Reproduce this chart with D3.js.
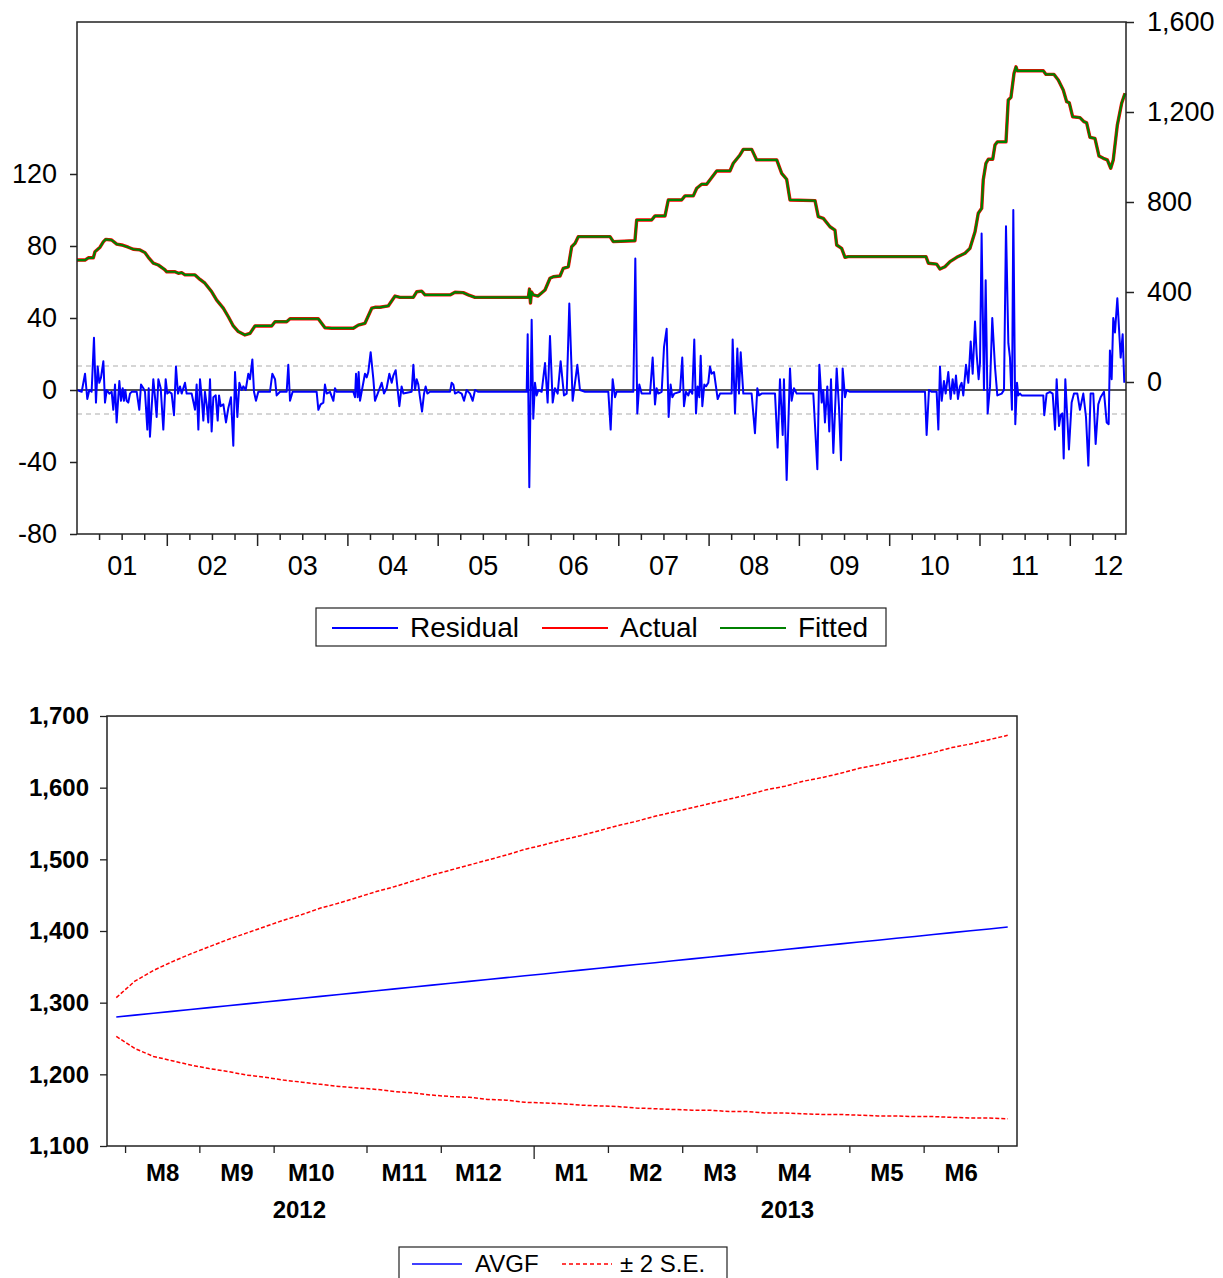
<!DOCTYPE html>
<html><head><meta charset="utf-8">
<script src="https://cdn.jsdelivr.net/npm/d3@7"></script>
<style>body{margin:0;background:#fff} text{font-family:Arial,"Liberation Sans",sans-serif;fill:#000}</style>
</head><body><svg id="c" width="1223" height="1278"></svg>
<script>
// ---------------- DATA: top panel (decimal years) ----------------
const levelTimes = [2001.000,2001.089,2001.125,2001.181,2001.199,2001.255,2001.291,2001.318,2001.384,2001.440,2001.495,2001.568,2001.623,2001.698,2001.753,2001.790,2001.845,2001.900,2001.967,2001.993,
2002.085,2002.122,2002.159,2002.196,2002.307,2002.362,2002.417,2002.492,2002.547,2002.620,2002.676,2002.731,2002.786,2002.860,2002.916,2002.971,
2003.156,2003.193,2003.322,2003.359,2003.672,2003.746,2003.821,2004.060,2004.115,2004.189,2004.264,2004.300,2004.355,2004.447,2004.522,2004.577,2004.724,2004.762,2004.817,2004.854,
2005.131,2005.186,2005.278,2005.333,2005.408,2005.998,2006.011,2006.022,2006.033,2006.053,2006.105,2006.183,2006.238,2006.275,2006.349,2006.385,2006.441,2006.478,2006.515,2006.551,2006.903,2006.939,
2007.179,2007.198,2007.364,2007.401,2007.512,2007.548,2007.696,2007.733,2007.825,2007.863,2007.918,2007.973,2008.084,2008.231,2008.268,2008.342,2008.379,2008.472,2008.527,2008.749,2008.804,2008.859,2008.896,
2009.173,2009.209,2009.265,2009.339,2009.394,2009.413,2009.468,2009.505,2009.542,2010.402,2010.428,2010.520,2010.557,2010.612,2010.668,2010.742,2010.834,2010.889,2010.945,2010.981,
2011.019,2011.036,2011.066,2011.092,2011.141,2011.166,2011.191,2011.288,2011.313,2011.343,2011.377,2011.399,2011.413,2011.701,2011.731,2011.820,2011.867,2011.922,2011.960,2011.989,
2012.026,2012.107,2012.152,2012.181,2012.218,2012.273,2012.318,2012.366,2012.410,2012.448,2012.476,2012.521,2012.569,2012.606];
const actualValues = [542,542,552,552,579,599,623,634,631,613,609,599,590,587,575,554,528,520,501,490,
490,483,486,476,476,456,439,401,364,328,290,249,224,209,216,249,
249,268,268,281,281,241,239,239,253,261,328,332,332,338,382,376,376,401,404,387,
387,399,397,387,376,376,413,351,400,387,382,409,461,468,471,505,512,601,616,646,646,624,
628,720,720,738,738,809,809,827,827,861,879,879,938,938,972,1009,1034,1034,987,987,927,901,809,
806,735,727,690,675,609,594,554,557,557,528,524,502,512,535,554,572,594,668,750,
772,898,972,990,990,1053,1067,1067,1253,1265,1372,1401,1383,1383,1367,1367,1342,1298,1246,1241,
1179,1175,1157,1152,1087,1083,1004,994,987,950,987,1142,1239,1283];
const fittedValues = [542,542,552,552,579,599,623,634,631,613,609,599,590,587,575,554,528,520,501,490,
490,483,486,476,476,456,439,401,364,328,290,249,224,209,216,249,
249,268,268,281,281,241,239,239,253,261,328,332,332,338,382,376,376,401,404,387,
387,399,397,387,376,376,413,351,400,387,382,409,461,468,471,505,512,601,616,646,646,624,
628,720,720,738,738,809,809,827,827,861,879,879,938,938,972,1009,1034,1034,987,987,927,901,809,
806,735,727,690,675,609,594,554,557,557,528,524,502,512,535,554,572,594,668,750,
772,898,972,990,990,1053,1067,1067,1253,1265,1372,1401,1383,1383,1367,1367,1342,1298,1246,1241,
1179,1175,1157,1152,1087,1083,1004,994,987,950,987,1142,1239,1283];
const residual = [
[2001.000,0],[2001.052,-1],[2001.089,9],[2001.114,-5],[2001.137,0],[2001.162,-1],[2001.188,29],[2001.210,-7],[2001.229,13],[2001.247,4],[2001.266,7],[2001.292,16],[2001.310,-7],[2001.329,0],[2001.358,-2],[2001.384,-1],[2001.402,-11],[2001.421,3],[2001.439,-18],[2001.469,5],[2001.487,-6],[2001.506,1],[2001.520,-6],[2001.535,0],[2001.550,-6],[2001.568,-7],[2001.587,-2],[2001.605,-1],[2001.661,-1],[2001.690,-11],[2001.709,3],[2001.735,1],[2001.753,-1],[2001.779,-22],[2001.794,1],[2001.808,-26],[2001.845,6],[2001.864,-4],[2001.882,-15],[2001.901,6],[2001.927,1],[2001.956,-22],[2001.982,6],
[2002.000,-2],[2002.022,-1],[2002.048,-2],[2002.074,-14],[2002.096,13],[2002.118,-2],[2002.141,2],[2002.159,-2],[2002.196,4],[2002.214,-2],[2002.270,-2],[2002.307,-11],[2002.325,3],[2002.344,-22],[2002.362,6],[2002.381,-4],[2002.399,-17],[2002.417,-1],[2002.436,-8],[2002.454,-18],[2002.473,6],[2002.491,-23],[2002.510,-4],[2002.536,-3],[2002.558,-17],[2002.573,-3],[2002.591,-9],[2002.621,-8],[2002.650,-18],[2002.676,-10],[2002.705,-4],[2002.731,-31],[2002.750,10],[2002.776,-15],[2002.798,4],[2002.824,0],[2002.842,2],[2002.868,0],[2002.897,9],[2002.916,6],[2002.942,17],[2002.960,-1],[2002.982,-6],
[2003.008,-1],[2003.137,-1],[2003.163,9],[2003.193,6],[2003.211,-3],[2003.248,-1],[2003.322,-1],[2003.340,14],[2003.359,-6],[2003.388,-1],[2003.654,-1],[2003.673,-11],[2003.698,-8],[2003.728,-7],[2003.746,3],[2003.765,-2],[2003.802,-1],[2003.839,-6],[2003.857,1],[2003.876,-1],
[2004.060,-1],[2004.079,-4],[2004.090,9],[2004.108,-4],[2004.119,10],[2004.134,-6],[2004.189,9],[2004.208,7],[2004.226,10],[2004.252,21],[2004.282,6],[2004.300,-6],[2004.337,-1],[2004.374,4],[2004.400,-2],[2004.429,1],[2004.459,9],[2004.485,4],[2004.503,8],[2004.529,11],[2004.547,2],[2004.570,-9],[2004.595,2],[2004.614,-2],[2004.706,-1],[2004.725,14],[2004.743,0],[2004.762,6],[2004.780,3],[2004.798,-4],[2004.821,-12],[2004.843,-2],[2004.861,2],[2004.880,-2],[2004.909,-1],
[2005.131,-1],[2005.149,4],[2005.168,3],[2005.186,-2],[2005.223,-1],[2005.260,-2],[2005.286,-6],[2005.315,0],[2005.352,-2],[2005.382,-6],[2005.408,0],[2005.444,-1],[2005.980,-1],[2005.991,31],
[2006.009,-54],[2006.035,39],[2006.053,-16],[2006.072,4],[2006.090,-3],[2006.109,0],[2006.146,-1],[2006.183,15],[2006.212,-7],[2006.238,30],[2006.268,-7],[2006.293,1],[2006.323,-2],[2006.356,16],[2006.393,-3],[2006.423,-2],[2006.452,48],[2006.489,-6],[2006.515,4],[2006.541,14],[2006.570,0],[2006.626,-1],[2006.884,-1],[2006.910,-22],[2006.932,6],[2006.958,-4],[2006.976,-1],
[2007.161,-1],[2007.183,73],[2007.205,-13],[2007.227,3],[2007.253,-2],[2007.346,-2],[2007.375,18],[2007.401,-8],[2007.419,1],[2007.438,-2],[2007.475,-1],[2007.501,24],[2007.530,34],[2007.552,-15],[2007.574,3],[2007.593,-4],[2007.615,-2],[2007.678,-1],[2007.703,18],[2007.722,-9],[2007.744,-1],[2007.770,-3],[2007.788,0],[2007.814,-2],[2007.836,28],[2007.855,-13],[2007.873,2],[2007.892,-4],[2007.907,19],[2007.925,-9],[2007.947,3],[2007.966,2],[2007.991,4],
[2008.010,13],[2008.028,9],[2008.054,10],[2008.076,2],[2008.095,-5],[2008.121,-2],[2008.250,-2],[2008.261,28],[2008.287,-13],[2008.313,23],[2008.331,-2],[2008.350,21],[2008.379,-2],[2008.471,-2],[2008.508,-24],[2008.534,1],[2008.553,-3],[2008.582,-2],[2008.730,-2],[2008.759,-32],[2008.785,6],[2008.815,-25],[2008.829,6],[2008.859,-50],[2008.896,12],[2008.914,-6],[2008.940,1],[2008.970,-2],
[2009.154,-2],[2009.199,-44],[2009.221,14],[2009.247,-7],[2009.265,0],[2009.283,-18],[2009.309,2],[2009.331,-23],[2009.350,6],[2009.376,-35],[2009.413,12],[2009.438,-9],[2009.461,-39],[2009.479,12],[2009.505,-4],[2009.523,0],[2009.560,-1],
[2010.391,-1],[2010.409,-25],[2010.435,0],[2010.465,-1],[2010.520,-1],[2010.539,-22],[2010.557,13],[2010.576,-6],[2010.601,5],[2010.620,-2],[2010.649,10],[2010.675,-5],[2010.697,6],[2010.716,-2],[2010.734,8],[2010.756,-5],[2010.778,2],[2010.797,4],[2010.815,-3],[2010.845,14],[2010.871,4],[2010.897,27],[2010.919,9],[2010.945,38],[2010.963,20],[2010.985,6],
[2011.000,15],[2011.018,87],[2011.044,0],[2011.063,61],[2011.085,-13],[2011.111,2],[2011.136,40],[2011.166,13],[2011.192,-3],[2011.240,-2],[2011.266,0],[2011.288,91],[2011.314,26],[2011.332,18],[2011.354,-11],[2011.369,100],[2011.391,-19],[2011.410,4],[2011.424,-3],[2011.443,-2],[2011.461,-3],[2011.701,-3],[2011.712,-14],[2011.738,-2],[2011.775,-1],[2011.805,-2],[2011.831,-22],[2011.849,6],[2011.875,-20],[2011.893,-14],[2011.912,-13],[2011.927,-38],[2011.945,6],[2011.985,-33],
[2012.015,-7],[2012.041,-2],[2012.078,-2],[2012.107,-11],[2012.144,-2],[2012.174,-15],[2012.200,-42],[2012.225,-2],[2012.255,-2],[2012.281,-30],[2012.310,-8],[2012.336,-4],[2012.373,-1],[2012.403,-18],[2012.425,-19],[2012.439,22],[2012.458,6],[2012.476,40],[2012.495,32],[2012.521,51],[2012.543,31],[2012.558,18],[2012.580,31],[2012.598,4]];
const residualSE = 13.3;
const leftTicks = [-80,-40,0,40,80,120];
const rightTicks = [0,400,800,1200,1600];
const yearLabels = ["01","02","03","04","05","06","07","08","09","10","11","12"];
const yearLabelTimes = [2001.5,2002.5,2003.5,2004.5,2005.5,2006.5,2007.5,2008.5,2009.5,2010.5,2011.5,2012.42];
const topLegend = ["Residual","Actual","Fitted"];

// ---------------- DATA: bottom panel (weekly forecast) ----------------
const avgf = [1280.0,1282.6,1285.2,1287.8,1290.5,1293.1,1295.7,1298.3,1300.9,1303.5,1306.2,1308.8,1311.4,1314.0,1316.6,1319.2,1321.8,1324.5,1327.1,1329.7,1332.3,1334.9,1337.5,1340.1,1342.8,1345.4,1348.0,1350.6,1353.2,1355.8,1358.5,1361.1,1363.7,1366.3,1368.9,1371.5,1374.1,1376.8,1379.4,1382.0,1384.6,1387.2,1389.8,1392.4,1395.1,1397.7,1400.3,1402.9,1405.5];
const upperSE = [1307,1330,1345,1357,1368,1378,1388,1397,1406,1415,1423,1432,1439,1447,1455,1462,1470,1478,1485,1492,1499,1506,1514,1520,1527,1533,1540,1547,1553,1560,1566,1572,1578,1584,1590,1597,1602,1609,1614,1620,1627,1632,1638,1643,1649,1656,1661,1667,1673];
const lowerSE = [1253,1236,1225,1219,1213,1208,1204,1199,1196,1192,1189,1186,1183,1181,1179,1176,1174,1171,1169,1168,1165,1164,1161,1160,1159,1157,1156,1155,1153,1152,1151,1150,1150,1148,1148,1146,1146,1145,1144,1144,1143,1142,1142,1141,1141,1140,1139,1139,1138];
const bottomTicks = [1100,1200,1300,1400,1500,1600,1700];
const monthLabels = ["M8","M9","M10","M11","M12","M1","M2","M3","M4","M5","M6"];
const monthFirstWeek = ["2012-08-06","2012-09-03","2012-10-01","2012-11-05","2012-12-03","2013-01-07","2013-02-04","2013-03-04","2013-04-01","2013-05-06","2013-06-03","2013-07-01"];
const yearNames = ["2012","2013"];
const yearNameDates = ["2012-10-07","2013-04-09"];
const bottomLegend = ["AVGF","\u00B1 2 S.E."];

// ---------------- DRAW ----------------
const svg = d3.select("#c");
svg.append("rect").attr("width",1223).attr("height",1278).attr("fill","#fff");

// ===== Top panel =====
const T = {l:77, r:1126, t:22, b:534};
const xT = d3.scaleLinear().domain([2001, 2012.617]).range([T.l, T.r]);
const yL = d3.scaleLinear().domain([-80, 204.44]).range([T.b, T.t]);
const yR = d3.scaleLinear().domain([-675.6, 1600]).range([T.b, T.t]);
const gTop = svg.append("g");

[residualSE, -residualSE].forEach(v => {
  gTop.append("line").attr("x1",T.l).attr("x2",T.r).attr("y1",yL(v)).attr("y2",yL(v))
    .attr("stroke","#c8c8c8").attr("stroke-width",1.5).attr("stroke-dasharray","5,4");
});
gTop.append("line").attr("x1",T.l).attr("x2",T.r).attr("y1",yL(0)).attr("y2",yL(0))
  .attr("stroke","#555").attr("stroke-width",2);

const resLine = d3.line().x(d=>xT(d[0])).y(d=>yL(d[1]));
gTop.append("path").datum(residual).attr("d",resLine).attr("fill","none")
  .attr("stroke","#0000ff").attr("stroke-width",2).attr("stroke-linejoin","round");

const lvl = d3.line().x(d=>xT(d[0])).y(d=>yR(d[1]));
const actual = levelTimes.map((t,i)=>[t, actualValues[i]]);
const fitted = levelTimes.map((t,i)=>[t, fittedValues[i]]);
gTop.append("path").datum(actual).attr("d",lvl).attr("fill","none")
  .attr("stroke","#ff0000").attr("stroke-width",3.4).attr("stroke-linejoin","round");
gTop.append("path").datum(fitted).attr("d",lvl).attr("fill","none")
  .attr("stroke","#008000").attr("stroke-width",2.2).attr("stroke-linejoin","round");

gTop.append("rect").attr("x",T.l).attr("y",T.t).attr("width",T.r-T.l).attr("height",T.b-T.t)
  .attr("fill","none").attr("stroke","#222").attr("stroke-width",1.5);

const axL = gTop.append("g").attr("transform",`translate(${T.l},0)`)
  .call(d3.axisLeft(yL).tickValues(leftTicks).tickSize(7).tickPadding(13).tickFormat(d=>String(d)));
const axR = gTop.append("g").attr("transform",`translate(${T.r},0)`)
  .call(d3.axisRight(yR).tickValues(rightTicks).tickSize(8).tickPadding(13).tickFormat(d3.format(",")));
[axL, axR].forEach(a => {
  a.select(".domain").remove();
  a.selectAll("line").attr("stroke","#222").attr("stroke-width",1.5);
  a.selectAll("text").style("font-size","27px").style("font-family","Arial, 'Liberation Sans', sans-serif").attr("fill","#000");
});

const quarters = d3.range(2001.25, 2012.6, 0.25);
const xt = gTop.append("g");
xt.selectAll("line").data(quarters).join("line")
  .attr("x1",d=>xT(d)).attr("x2",d=>xT(d)).attr("y1",T.b)
  .attr("y2",d=> Math.abs(d-Math.round(d))<1e-6 ? T.b+12 : T.b+6)
  .attr("stroke","#222").attr("stroke-width",1.5);
xt.selectAll("text").data(yearLabels).join("text")
  .attr("x",(d,i)=>xT(yearLabelTimes[i])).attr("y",T.b+41)
  .attr("text-anchor","middle").style("font-size","27px").text(d=>d);

const lg = gTop.append("g");
lg.append("rect").attr("x",316).attr("y",608).attr("width",570).attr("height",38)
  .attr("fill","#fff").attr("stroke","#222").attr("stroke-width",1.2);
const lgColors = ["#0000ff","#ff0000","#008000"];
const lgX = [332,542,720];
topLegend.forEach((name,i)=>{
  lg.append("line").attr("x1",lgX[i]).attr("x2",lgX[i]+66).attr("y1",628).attr("y2",628)
    .attr("stroke",lgColors[i]).attr("stroke-width",2);
  lg.append("text").attr("x",lgX[i]+78).attr("y",637).style("font-size","28px").text(name);
});

// ===== Bottom panel =====
const B = {l:107, r:1017, t:716, b:1146};
const parse = d3.utcParse("%Y-%m-%d");
const startObs = parse("2012-07-30");
const weeks = d3.utcMonday.range(startObs, d3.utcDay.offset(parse("2013-07-01"),1));
const xB = d3.scaleUtc()
  .domain([d3.utcHour.offset(weeks[0],-84), d3.utcHour.offset(weeks[weeks.length-1],84)])
  .range([B.l, B.r]);
const yB = d3.scaleLinear().domain([1100,1700]).range([B.b, B.t]);
const gBot = svg.append("g");

const fl = d3.line().x((d,i)=>xB(weeks[i])).y(d=>yB(d));
gBot.append("path").datum(upperSE).attr("d",fl).attr("fill","none")
  .attr("stroke","#ff0000").attr("stroke-width",1.5).attr("stroke-dasharray","4,2");
gBot.append("path").datum(lowerSE).attr("d",fl).attr("fill","none")
  .attr("stroke","#ff0000").attr("stroke-width",1.5).attr("stroke-dasharray","4,2");
gBot.append("path").datum(avgf).attr("d",fl).attr("fill","none")
  .attr("stroke","#0000ff").attr("stroke-width",1.6);

gBot.append("rect").attr("x",B.l).attr("y",B.t).attr("width",B.r-B.l).attr("height",B.b-B.t)
  .attr("fill","none").attr("stroke","#222").attr("stroke-width",1.5);

const axB = gBot.append("g").attr("transform",`translate(${B.l},0)`)
  .call(d3.axisLeft(yB).tickValues(bottomTicks).tickSize(7).tickPadding(11).tickFormat(d3.format(",")));
axB.select(".domain").remove();
axB.selectAll("line").attr("stroke","#222").attr("stroke-width",1.3);
axB.selectAll("text").style("font-size","24px").style("font-weight","bold")
  .style("font-family","Arial, 'Liberation Sans', sans-serif").attr("fill","#000");

const mDates = monthFirstWeek.map(parse);
gBot.selectAll("line.mt").data(mDates).join("line").attr("class","mt")
  .attr("x1",d=>xB(d3.utcHour.offset(d,-84))).attr("x2",d=>xB(d3.utcHour.offset(d,-84)))
  .attr("y1",B.b).attr("y2",d=> d.getUTCMonth()===0 ? B.b+13 : B.b+7)
  .attr("stroke","#222").attr("stroke-width",1.3);
gBot.selectAll("text.ml").data(monthLabels).join("text").attr("class","ml")
  .attr("x",(d,i)=>xB(d3.utcHour.offset(mDates[i],252))).attr("y",1181)
  .attr("text-anchor","middle").style("font-size","24px").style("font-weight","bold").text(d=>d);
gBot.selectAll("text.yl").data(yearNames).join("text").attr("class","yl")
  .attr("x",(d,i)=>xB(parse(yearNameDates[i]))).attr("y",1218)
  .attr("text-anchor","middle").style("font-size","24px").style("font-weight","bold").text(d=>d);

const lb = gBot.append("g");
lb.append("rect").attr("x",399).attr("y",1247).attr("width",328).attr("height",45)
  .attr("fill","#fff").attr("stroke","#222").attr("stroke-width",1.2);
lb.append("line").attr("x1",412).attr("x2",462).attr("y1",1264).attr("y2",1264)
  .attr("stroke","#0000ff").attr("stroke-width",1.5);
lb.append("text").attr("x",475).attr("y",1272).style("font-size","24px").text(bottomLegend[0]);
lb.append("line").attr("x1",562).attr("x2",612).attr("y1",1264).attr("y2",1264)
  .attr("stroke","#ff0000").attr("stroke-width",1.5).attr("stroke-dasharray","4,3");
lb.append("text").attr("x",620).attr("y",1272).style("font-size","24px").text(bottomLegend[1]);
</script></body></html>
